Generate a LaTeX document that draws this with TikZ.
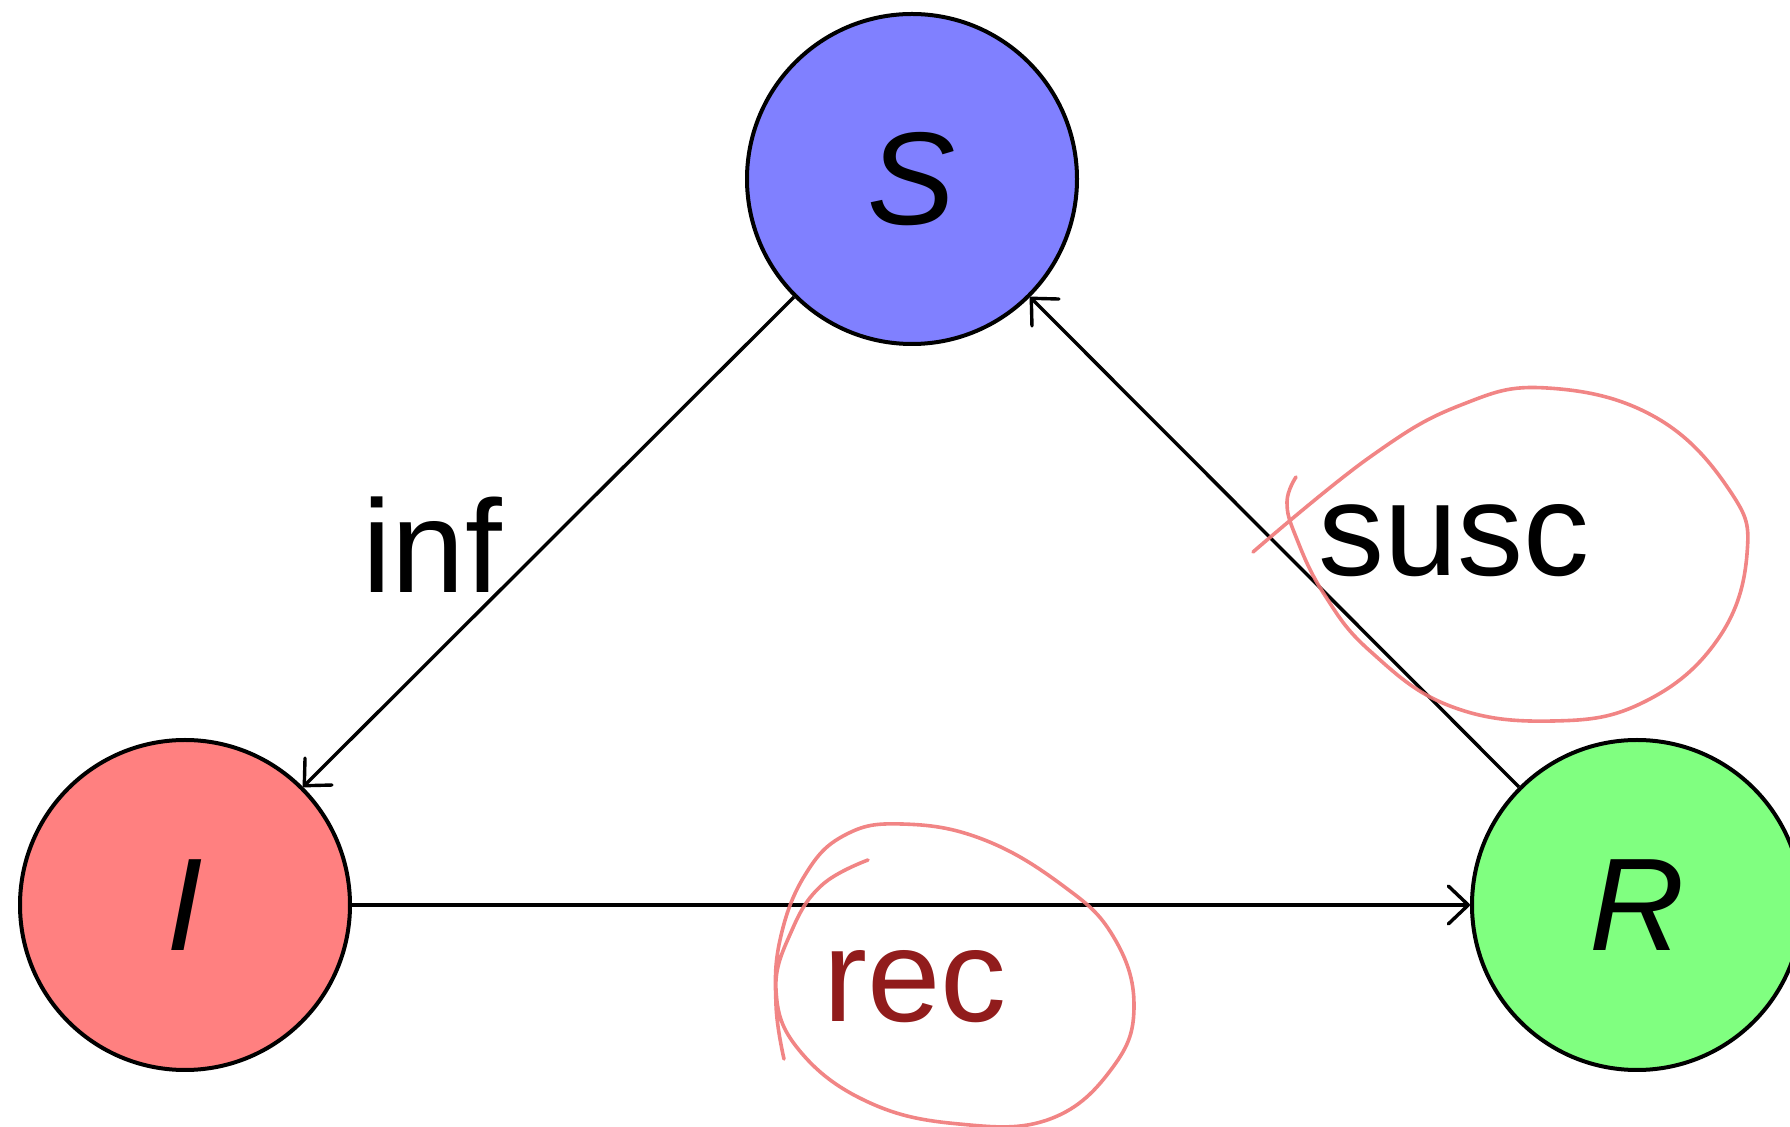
\documentclass[tikz,border=0pt]{standalone}
\usepackage{fontspec}
\setmainfont{Liberation Sans}
\usetikzlibrary{arrows.meta}
\definecolor{recred}{RGB}{145,28,28}
\definecolor{penred}{RGB}{240,120,120}
\tikzset{
  state/.style={circle, draw=black, line width=2pt, minimum size=165pt, inner sep=0pt,
    font=\fontsize{66}{78}\selectfont\itshape},
  conn/.style={line width=1.7pt, -{Straight Barb[length=10pt,width=19pt,line cap=round,line join=round]}},
  lbl/.style={font=\fontsize{66}{78}\selectfont, inner sep=0pt, anchor=base west},
  pen/.style={draw=penred, line width=1.8pt, opacity=0.9, line cap=round, line join=round}
}
\begin{document}
\begin{tikzpicture}[x=0.5pt,y=-0.5pt]
\useasboundingbox (0,0) rectangle (1790,1127);
\node[state, fill={rgb,255:red,128;green,128;blue,255}] (S) at (912,179) {S};
\node[state, fill={rgb,255:red,255;green,128;blue,128}] (I) at (185,905) {I};
\node[state, fill={rgb,255:red,128;green,255;blue,128}] (R) at (1637,905) {R};
\draw[conn] (S.225) -- (I.45);
\draw[conn] (I) -- (R);
\draw[conn] (R.135) -- (S.-45);
\node[lbl] (inf) at (362,593) {inf};
\node[lbl] (susc) at (1318,576) {susc};
\node[lbl, text=recred] (rec) at (823,1022) {rec};
\draw[pen] plot[smooth, tension=0.7] coordinates {
  (1253,552) (1370,457) (1461,405) (1547,388) (1655,417) (1730,491) (1747,554)
  (1718,639) (1644,702) (1553,721) (1450,706) (1370,651) (1324,594) (1296,537)
  (1287,502) (1296,477)};
\draw[pen] plot[smooth, tension=0.7] coordinates {
  (868,860) (822,885) (792,930) (776,990) (799,1050) (868,1102) (959,1124)
  (1050,1119) (1113,1067) (1134,1005) (1113,936) (1062,885) (982,839) (902,824)
  (845,835) (805,875) (780,940) (776,1005) (784,1059)};
\end{tikzpicture}
\end{document}
